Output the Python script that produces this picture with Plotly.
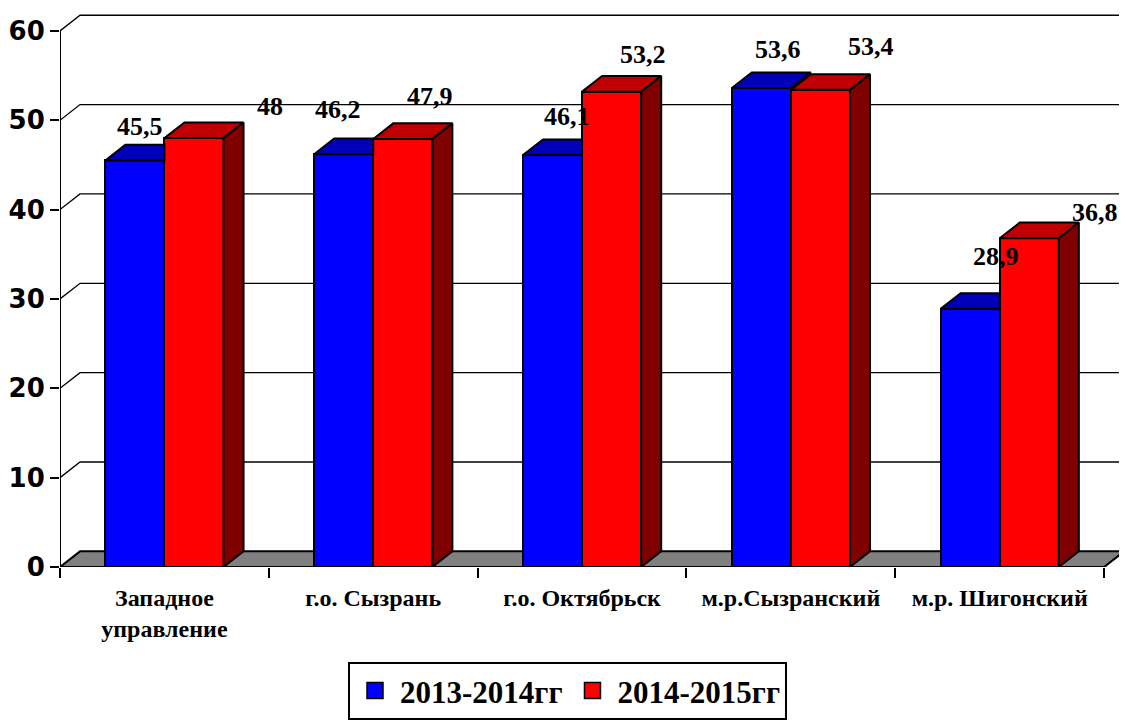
import plotly.graph_objects as go

# data
categories = ["Западное<br>управление", "г.о. Сызрань", "г.о. Октябрьск",
              "м.р.Сызранский", "м.р. Шигонский"]
series_names = ["2013-2014гг", "2014-2015гг"]
values_2013 = [45.5, 46.2, 46.1, 53.6, 28.9]
values_2014 = [48, 47.9, 53.2, 53.4, 36.8]
y_ticks = [0, 10, 20, 30, 40, 50, 60]

# 3D look
BAR_W = 0.283     # bar width in category units
DX = 0.096        # depth offset (x, category units)
DY = 1.75         # depth offset (y, value units)
X_MAX = 5.1
Y_MAX = 62

BLUE, BLUE_TOP = "#0000FF", "#0000B8"
RED, RED_TOP, RED_SIDE = "#FF0000", "#C00000", "#800000"
SERIF = "Liberation Serif"

# label nudges in px (Excel places 3D labels loosely)
LBL_SHIFT_2013 = [(5, 34), (-6, 45), (14, 39), (17, 39), (26, 52)]
LBL_SHIFT_2014 = [(76, 32), (27, 42), (31, 37), (51, 43), (66, 26)]


def fmt(v):
    return ("%g" % v).replace(".", ",")


def poly(xs, ys, color):
    return go.Scatter(
        x=xs + [xs[0]], y=ys + [ys[0]], mode="lines", fill="toself",
        fillcolor=color, line=dict(color="black", width=2),
        hoverinfo="skip", showlegend=False,
    )


centers = [i + 0.5 for i in range(len(categories))]

fig = go.Figure()

# front faces
fig.add_trace(go.Bar(
    x=centers, y=values_2013, width=BAR_W, offset=-BAR_W, name=series_names[0],
    marker=dict(color=BLUE, line=dict(color="black", width=2)), showlegend=False,
))
fig.add_trace(go.Bar(
    x=centers, y=values_2014, width=BAR_W, offset=0, name=series_names[1],
    marker=dict(color=RED, line=dict(color="black", width=2)), showlegend=False,
))

# tops and sides
for c, b, r in zip(centers, values_2013, values_2014):
    x0 = c - BAR_W
    if r >= b:
        fig.add_trace(poly([x0, x0 + DX, c, c], [b, b + DY, b + DY, b], BLUE_TOP))
    else:
        fig.add_trace(poly([x0, x0 + DX, c + DX, c], [b, b + DY, b + DY, b], BLUE_TOP))
    x1 = c + BAR_W
    fig.add_trace(poly([c, c + DX, x1 + DX, x1], [r, r + DY, r + DY, r], RED_TOP))
    fig.add_trace(poly([x1, x1 + DX, x1 + DX, x1], [0, DY, r + DY, r], RED_SIDE))

# legend entries with bigger square swatches
for name, color in zip(series_names, [BLUE, RED]):
    fig.add_trace(go.Scatter(
        x=[None], y=[None], mode="markers", name=name,
        marker=dict(symbol="square", size=16, color=color,
                    line=dict(color="black", width=1.5)),
    ))

# floor and back grid
shapes = [dict(
    type="path", xref="x", yref="y", layer="below",
    path=f"M0,0 L{DX},{DY} L{5 + DX},{DY} L5,0 Z",
    fillcolor="#808080", line=dict(color="black", width=2),
)]
for v in y_ticks[1:]:
    shapes.append(dict(type="path", xref="x", yref="y", layer="below",
                       path=f"M0,{v} L{DX},{v + DY} L{X_MAX},{v + DY}",
                       line=dict(color="black", width=1.3)))
shapes.append(dict(type="line", xref="x", yref="y", x0=0, x1=0, y0=0, y1=60,
                   line=dict(color="black", width=2)))

# data labels
annotations = []
for c, v, (sx, sy) in zip(centers, values_2013, LBL_SHIFT_2013):
    annotations.append(dict(x=c - BAR_W / 2, y=v, text=f"<b>{fmt(v)}</b>",
                            showarrow=False, xshift=sx, yshift=sy,
                            font=dict(family=SERIF, size=26, color="black")))
for c, v, (sx, sy) in zip(centers, values_2014, LBL_SHIFT_2014):
    annotations.append(dict(x=c + BAR_W / 2, y=v, text=f"<b>{fmt(v)}</b>",
                            showarrow=False, xshift=sx, yshift=sy,
                            font=dict(family=SERIF, size=26, color="black")))

# page body has an 8px margin, so the figure is shrunk by that much
fig.update_layout(
    width=1119, height=714,
    margin=dict(l=52, r=2, t=5, b=155),
    plot_bgcolor="white", paper_bgcolor="white",
    barmode="overlay", bargap=0,
    shapes=shapes, annotations=annotations,
    showlegend=True,
    legend=dict(
        orientation="h", xref="container", yref="container",
        x=0.5, xanchor="center", y=0.003, yanchor="bottom",
        bordercolor="black", borderwidth=2, itemwidth=40, itemsizing="trace",
        font=dict(family=SERIF, size=31, color="black", weight="bold"),
    ),
    xaxis=dict(
        range=[0, X_MAX], showgrid=False, zeroline=False, showline=False,
        automargin=False,
        tickmode="array", tickvals=centers, ticktext=[f"<b>{t}</b>" for t in categories],
        ticks="", ticklabelstandoff=14,
        tickfont=dict(family=SERIF, size=24, color="black"),
        minor=dict(tickmode="array", tickvals=[0, 1, 2, 3, 4, 5], ticks="outside",
                   ticklen=10, tickwidth=2, tickcolor="black"),
    ),
    yaxis=dict(
        range=[0, Y_MAX], showgrid=False, zeroline=False, showline=False,
        automargin=False,
        tickvals=y_ticks, ticks="outside", ticklen=9, tickwidth=2, tickcolor="black",
        tickfont=dict(family="DejaVu Sans", size=26, color="black", weight="bold"),
    ),
)

fig.write_html("out.html")
